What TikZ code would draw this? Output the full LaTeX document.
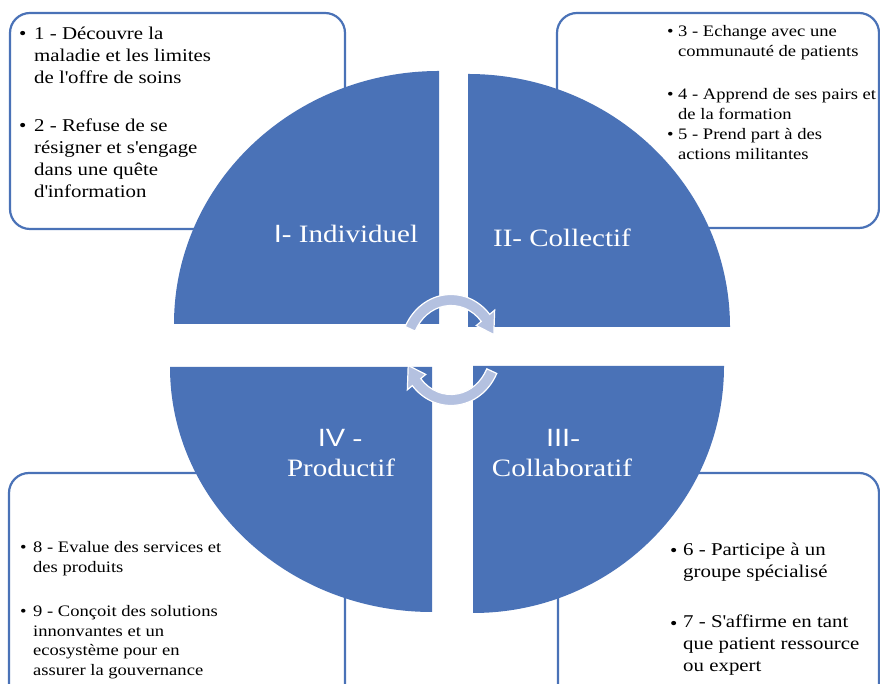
\documentclass[tikz,border=0pt]{standalone}
\usepackage{fontspec}
\setmainfont{Liberation Serif}[FakeStretch=1.16]
\newfontfamily\lsans{Liberation Sans}[FakeStretch=1.16]
\definecolor{qblue}{RGB}{74,114,183}
\definecolor{arrblue}{RGB}{180,193,224}
\tikzset{
  box/.style={draw=qblue, line width=2.2pt, fill=white, rounded corners=20pt},
  quad/.style={fill=qblue},
  arr/.style={fill=arrblue, draw=white, line width=1.2pt, line join=miter},
  lbl/.style={text=white, anchor=base, inner sep=0pt, font=\fontsize{25}{30}\selectfont},
  itL/.style={anchor=base west, align=left, inner sep=0pt, font=\fontsize{18}{22}\selectfont},
  itS/.style={anchor=base west, align=left, inner sep=0pt, font=\fontsize{16}{19.5}\selectfont},
  bulL/.style={anchor=base west, inner sep=0pt, font=\fontsize{18}{22}\selectfont},
  bulS/.style={anchor=base west, inner sep=0pt, font=\fontsize{16}{19.5}\selectfont},
}
\begin{document}
\begin{tikzpicture}[x=1pt,y=1pt]
\useasboundingbox (0,0) rectangle (880,684);
\clip (0,0) rectangle (880,684);
% text boxes
\draw[box] (10,455) rectangle (345,671);
\draw[box] (557,456) rectangle (879,671);
\draw[box] (9,-20) rectangle (345,211);
\draw[box] (558,-20) rectangle (879,211);
% quadrants
\fill[quad] (439,360) -- (174,360) arc[start angle=180,end angle=90,x radius=265,y radius=253] -- cycle;
\fill[quad] (468,357) -- (468,610) arc[start angle=90,end angle=0,x radius=262,y radius=253] -- cycle;
\fill[quad] (432,317) -- (170,317) arc[start angle=180,end angle=270,x radius=262,y radius=245] -- cycle;
\fill[quad] (473,318) -- (724,318) arc[start angle=0,end angle=-90,x radius=251,y radius=247] -- cycle;
% circular arrows
\begin{scope}[shift={(451,334)}]
\filldraw[arr] (155:50.5 and 55.5) arc[start angle=155,end angle=40,x radius=50.5,y radius=55.5]
  -- (40:57 and 62) -- (18:45 and 50) -- (40:33 and 38) -- (40:39.5 and 44.5)
  arc[start angle=40,end angle=155,x radius=39.5,y radius=44.5] -- cycle;
\filldraw[arr] (-25:50.5 and 55.5) arc[start angle=-25,end angle=-140,x radius=50.5,y radius=55.5]
  -- (-140:57 and 62) -- (-162:45 and 50) -- (-140:33 and 38) -- (-140:39.5 and 44.5)
  arc[start angle=-140,end angle=-25,x radius=39.5,y radius=44.5] -- cycle;
\end{scope}
% quadrant labels
\node[lbl] (q1) at (346,441) {{\lsans I}- Individuel};
\node[lbl] (q2) at (562,437) {II- Collectif};
\node[lbl] (q4a) at (340,237) {{\lsans IV} -};
\node[lbl] (q4b) at (341,207) {Productif};
\node[lbl] (q3a) at (563,237) {{\lsans III}-};
\node[lbl] (q3b) at (562,207) {Collaboratif};
% top-left items
\node[bulL] (b1) at (19,644) {\textbullet};
\node[itL] (t1) at (34,600) {1 - Découvre la\\maladie et les limites\\de l\textquotesingle offre de soins};
\node[bulL] (b2) at (19,552) {\textbullet};
\node[itL] (t2) at (34,486) {2 - Refuse de se\\résigner et s\textquotesingle engage\\dans une quête\\d\textquotesingle information};
% top-right items
\node[bulS] (b3) at (667,647) {\textbullet};
\node[itS] (t3) at (678,627.5) {3 - Echange avec une\\communauté de patients};
\node[bulS] (b4) at (667,584) {\textbullet};
\node[itS] (t4) at (678,564.5) {4 - Apprend de ses pairs et\\de la formation};
\node[bulS] (b5) at (667,544) {\textbullet};
\node[itS] (t5) at (678,524.5) {5 - Prend part à des\\actions militantes};
% bottom-left items
\node[bulS] (b8) at (20,131) {\textbullet};
\node[itS] (t8) at (33,111.5) {8 - Evalue des services et\\des produits};
\node[bulS] (b9) at (20,67) {\textbullet};
\node[itS] (t9) at (33,8.5) {9 - Conçoit des solutions\\innonvantes et un\\ecosystème pour en\\assurer la gouvernance};
% bottom-right items
\node[bulL] (b6) at (670,127) {\textbullet};
\node[itL] (t6) at (683,106) {6 - Participe à un\\groupe spécialisé};
\node[bulL] (b7) at (670,54) {\textbullet};
\node[itL] (t7) at (683,12) {7 - S\textquotesingle affirme en tant\\que patient ressource\\ou expert};
\end{tikzpicture}
\end{document}
